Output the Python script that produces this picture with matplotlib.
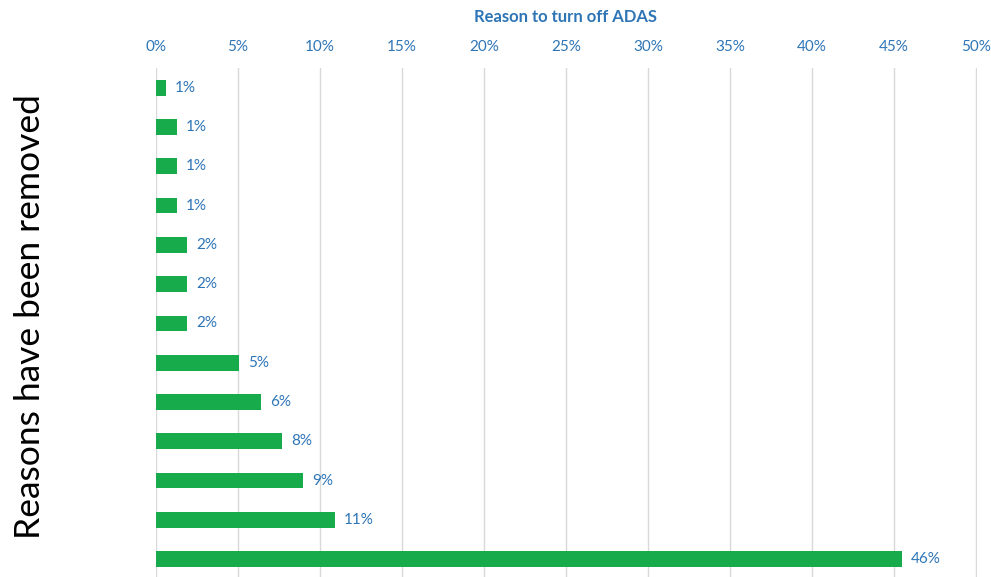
import matplotlib
matplotlib.use("Agg")
import matplotlib.pyplot as plt
from matplotlib.ticker import FuncFormatter

# Data (top to bottom)
categories = [f"Reason {i}" for i in range(1, 14)]
values = [0.6, 1.3, 1.3, 1.3, 1.9, 1.9, 1.9, 5.1, 6.4, 7.7, 9.0, 10.9, 45.5]
labels = ["1%", "1%", "1%", "1%", "2%", "2%", "2%", "5%", "6%", "8%", "9%", "11%", "46%"]
xticks = [0, 5, 10, 15, 20, 25, 30, 35, 40, 45, 50]

BLUE = "#2E75B6"
GREEN = "#17AB4B"
FONT = ["Lato", "DejaVu Sans"]
plt.rcParams["font.family"] = FONT

fig = plt.figure(figsize=(9.91, 5.77), dpi=100)
L, R = 155.7, 977
ax = fig.add_axes([L/991, -0.003, (R-L)/991, 1 - 68/577 + 0.003])

ypos = list(range(len(categories)))
ax.barh(ypos, values, height=0.4, color=GREEN, zorder=3)
for y, v, lab in zip(ypos, values, labels):
    ax.annotate(lab, (v, y), xytext=(6.5, 0), textcoords="offset points",
                va="center", ha="left", color=BLUE, fontsize=11)

ax.set_xlim(0, 50.06)
ax.set_ylim(len(categories) - 0.5, -0.5)
ax.set_xticks(xticks)
ax.xaxis.set_major_formatter(FuncFormatter(lambda v, p: f"{v:.0f}%"))
ax.xaxis.tick_top()
ax.tick_params(axis="x", length=0, pad=10, labelcolor=BLUE, labelsize=11)
ax.set_yticks([])
ax.grid(axis="x", color="#D9D9D9", linewidth=1, zorder=0)
for s in ax.spines.values():
    s.set_visible(False)

fig.text(565/991, 1 - 17/577, "Reason to turn off ADAS", ha="center", va="center",
         color=BLUE, fontsize=12, fontweight="bold")
fig.text(30/991, 1 - 317/577, "Reasons have been removed", rotation=90, ha="center", va="center",
         color="black", fontsize=25.5)

fig.savefig("out.png", dpi=100)
